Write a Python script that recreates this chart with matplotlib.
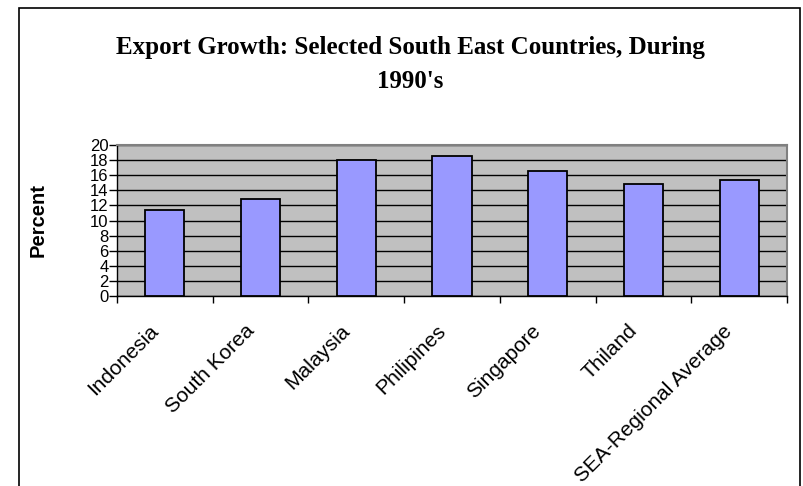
import numpy as np
import matplotlib
matplotlib.use("Agg")
import matplotlib.pyplot as plt
from matplotlib.patches import Rectangle

countries = ["Indonesia", "South Korea", "Malaysia", "Philipines",
             "Singapore", "Thiland", "SEA-Regional Average"]
growth = [11.4, 12.9, 18.0, 18.5, 16.5, 14.8, 15.4]
yticks = list(range(0, 21, 2))

fig = plt.figure(figsize=(8.04, 4.86), dpi=100)
ax = fig.add_axes([117/804, 1-296/486, 670/804, 151/486])

x = np.arange(len(countries))
ax.set_facecolor("#C0C0C0")
ax.bar(x, growth, width=0.41, color="#9999FF", edgecolor="black", linewidth=1.3, zorder=3)

ax.set_xlim(-0.5, len(countries)-0.5)
ax.set_ylim(0, 20)
ax.set_yticks(yticks)
ax.set_yticklabels([str(v) for v in yticks], fontsize=12, family="Liberation Sans")
ax.yaxis.grid(True, color="black", linewidth=1.0, zorder=1)
ax.set_axisbelow(True)

# category labels just left of centres (Excel style), ticks at boundaries
ax.set_xticks(x - 0.1)
ax.set_xticklabels(countries, rotation=45, ha="right", va="center", rotation_mode="anchor",
                   fontsize=15, family="Liberation Sans")
ax.set_xticks(np.arange(len(countries)+1)-0.5, minor=True)
ax.tick_params(axis="x", which="major", length=0, pad=23)
ax.tick_params(axis="x", which="minor", length=5, width=1, color="black", direction="out")
ax.tick_params(axis="y", length=6, width=1, direction="out", pad=0)

for s in ["top", "right"]:
    ax.spines[s].set_color("#808080")
    ax.spines[s].set_linewidth(1.5)
for s in ["left", "bottom"]:
    ax.spines[s].set_color("black")
    ax.spines[s].set_linewidth(1.0)

ax.set_ylabel("Percent", fontsize=14.5, fontweight="bold", family="Liberation Sans")
ax.yaxis.set_label_coords(-0.103, 0.5)

fig.text(0.51, 1-47/486, "Export Growth: Selected South East Countries, During",
         ha="center", va="center", fontsize=18, fontweight="bold", family="Liberation Serif")
fig.text(0.51, 1-82/486, "1990's",
         ha="center", va="center", fontsize=18, fontweight="bold", family="Liberation Serif")

# outer chart frame (bottom edge cut off)
fig.patches.append(Rectangle((19/804, -0.05), 781/804, 1.05-8/486, transform=fig.transFigure,
                             fill=False, edgecolor="black", linewidth=1.2))

fig.savefig("out.png", dpi=100)
